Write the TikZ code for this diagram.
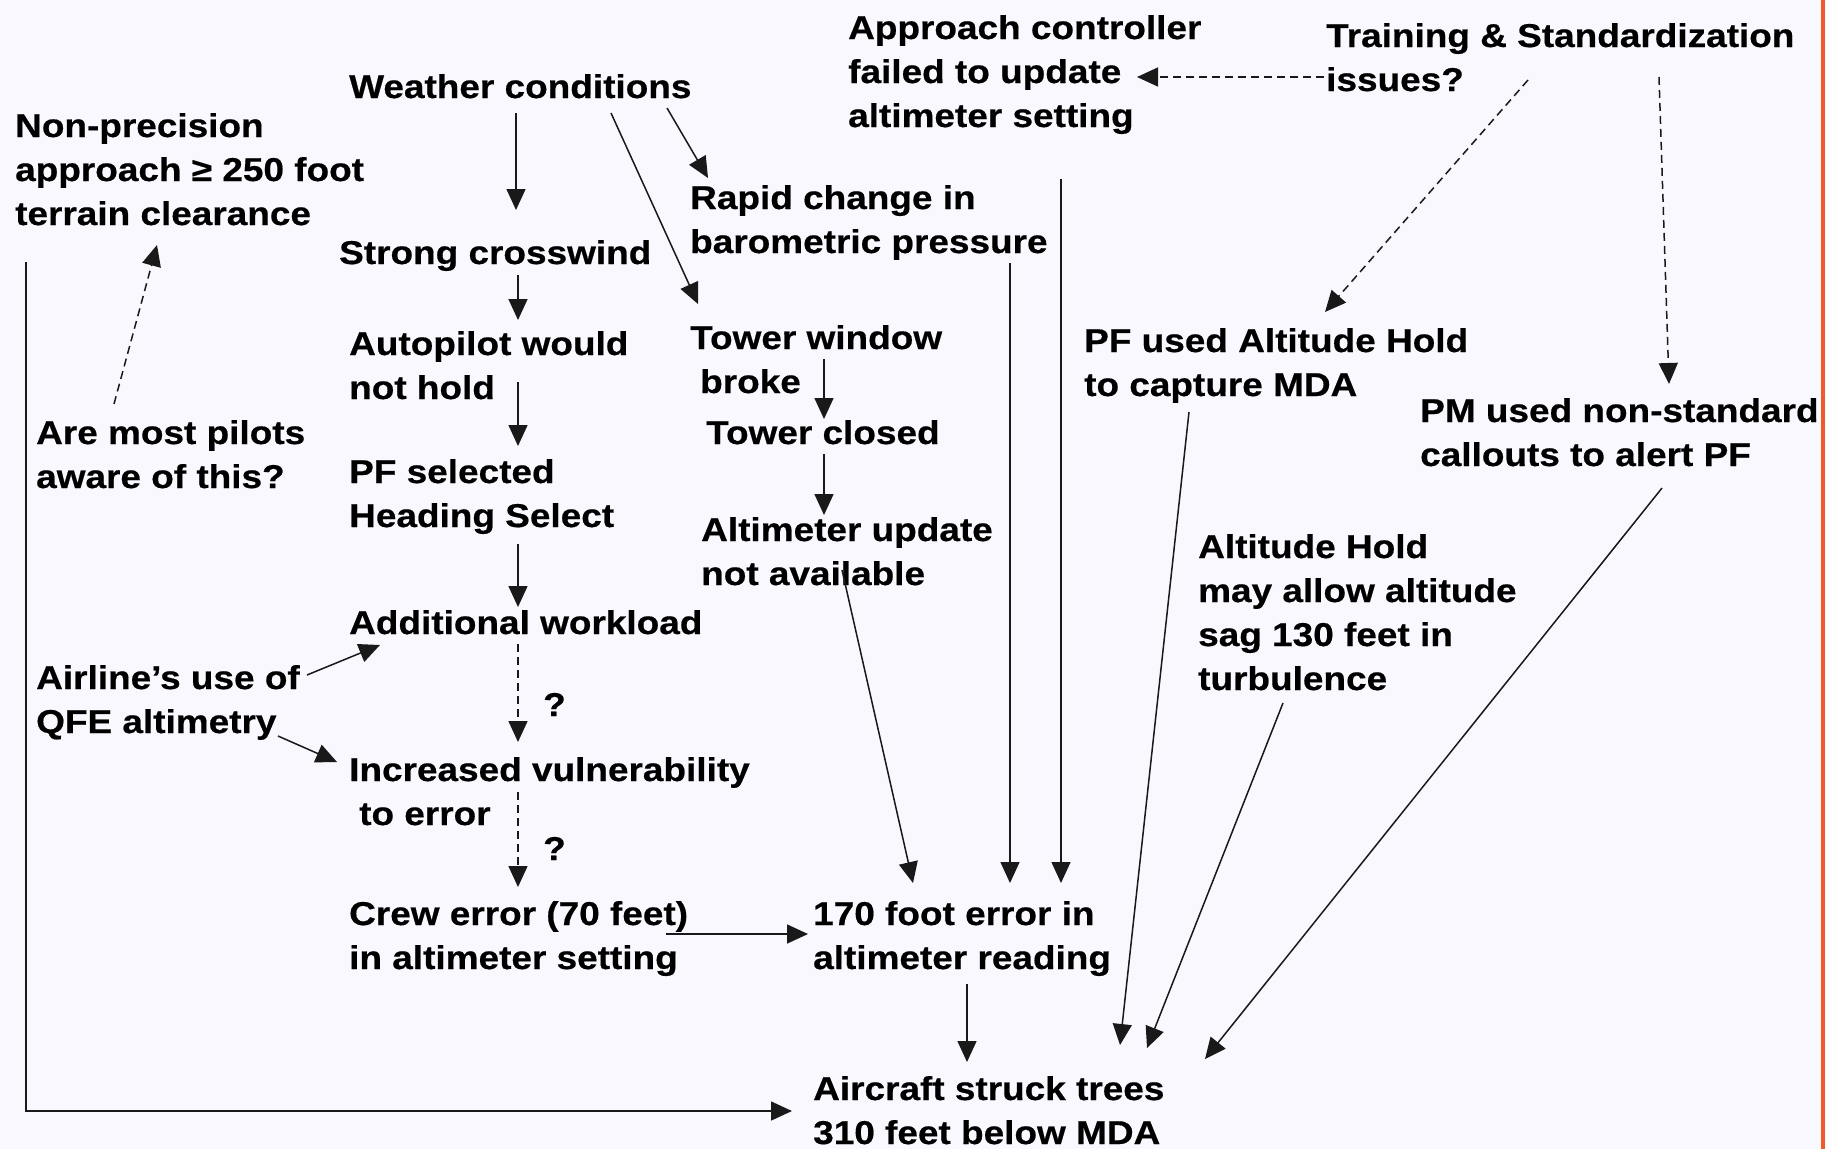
\documentclass[tikz,border=0pt]{standalone}
\usepackage{fontspec}
\setmainfont{Liberation Sans}[FakeStretch=1.12,BoldFeatures={FakeBold=0.5}]
\usepackage{tikz}
\usetikzlibrary{arrows.meta,calc}
\definecolor{pagebg}{HTML}{F8F8FE}
\definecolor{edgex}{HTML}{F05A28}
\tikzset{
  lbl/.style={anchor=base west,inner sep=0pt,align=left,font=\fontsize{33}{44}\selectfont\bfseries},
  ar/.style={-{Triangle[length=21pt,width=19pt]},line width=1.5pt,black!90},
  ard/.style={ar,dash pattern=on 8pt off 5pt}
}
\begin{document}
\begin{tikzpicture}[x=1pt,y=-1pt]
\fill[pagebg] (0,0) rectangle (1826,1149);
\useasboundingbox (0,0) rectangle (1826,1149);
\draw[edgex,line width=3.2pt] (1823,0) -- (1823,1149);

% causes, left and middle (nodes sit on their last baseline)
\node[lbl] (np) at (15,225) {Non-precision\\approach ≥ 250 foot\\terrain clearance};
\node[lbl] (am) at (36,488) {Are most pilots\\aware of this?};
\node[lbl] (al) at (36,733) {Airline’s use of\\QFE altimetry};
\node[lbl] (wc) at (349,98) {Weather conditions};
\node[lbl] (sc) at (339,264) {Strong crosswind};
\node[lbl] (ap) at (349,399) {Autopilot would\\not hold};
\node[lbl] (pfs) at (349,527) {PF selected\\Heading Select};
\node[lbl] (aw) at (349,634) {Additional workload};
\node[lbl] (iv) at (349,825) {Increased vulnerability\\\hspace*{10pt}to error};
\node[lbl] (q1) at (543,716) {?};
\node[lbl] (q2) at (543,860) {?};
\node[lbl] (ce) at (349,969) {Crew error (70 feet)\\in altimeter setting};

% tower chain
\node[lbl] (rc) at (690,253) {Rapid change in\\barometric pressure};
\node[lbl] (tw) at (690,393) {Tower window\\\hspace*{10pt}broke};
\node[lbl] (tc) at (706,444) {Tower closed};
\node[lbl] (au) at (701,585) {Altimeter update\\not available};
\node[lbl] (ac) at (848,127) {Approach controller\\failed to update\\altimeter setting};

% right side
\node[lbl] (ts) at (1326,91) {Training \& Standardization\\issues?};
\node[lbl] (pfa) at (1084,396) {PF used Altitude Hold\\to capture MDA};
\node[lbl] (pm) at (1420,466) {PM used non-standard\\callouts to alert PF};
\node[lbl] (ah) at (1198,690) {Altitude Hold\\may allow altitude\\sag 130 feet in\\turbulence};

% outcome
\node[lbl] (fe) at (813,969) {170 foot error in\\altimeter reading};
\node[lbl] (at) at (813,1144) {Aircraft struck trees\\310 feet below MDA};

% connectors
\draw[ar] ([shift={(167,15)}]wc.base west) -- ([shift={(177,-54)}]sc.base west);
\draw[ar] ([shift={(179,11)}]sc.base west) -- ([shift={(169,-79)}]ap.base west);
\draw[ar] ([shift={(169,-17)}]ap.base west) -- ([shift={(169,-81)}]pfs.base west);
\draw[ar] ([shift={(169,17)}]pfs.base west) -- ([shift={(169,-27)}]aw.base west);
\draw[ard] ([shift={(169,10)}]aw.base west) -- ([shift={(169,-83)}]iv.base west);
\draw[ard] ([shift={(169,-33)}]iv.base west) -- ([shift={(169,-82)}]ce.base west);
\draw[ar] ([shift={(271,-58)}]al.base west) -- ([shift={(31,11)}]aw.base west);
\draw[ar] ([shift={(242,3)}]al.base west) -- ([shift={(-12,-63)}]iv.base west);
\draw[ar] ([shift={(317,-35)}]ce.base west) -- ([shift={(-5,-35)}]fe.base west);
\draw[ar] ([shift={(154,15)}]fe.base west) -- ([shift={(154,-82)}]at.base west);
\draw[ar] ([shift={(11,37)}]np.base west) |- ([shift={(-21,-33)}]at.base west);
\draw[ard] ([shift={(78,-84)}]am.base west) -- ([shift={(142,20)}]np.base west);
\draw[ar] ([shift={(318,10)}]wc.base west) -- ([shift={(18,-75)}]rc.base west);
\draw[ar] ([shift={(262,15)}]wc.base west) -- ([shift={(8,-89)}]tw.base west);
\draw[ar] ([shift={(134,-34)}]tw.base west) -- ([shift={(118,-25)}]tc.base west);
\draw[ar] ([shift={(118,10)}]tc.base west) -- ([shift={(123,-70)}]au.base west);
\draw[ar] ([shift={(141,-15)}]au.base west) -- ([shift={(100,-86)}]fe.base west);
\draw[ar] ([shift={(320,10)}]rc.base west) -- ([shift={(197,-86)}]fe.base west);
\draw[ar] ([shift={(213,52)}]ac.base west) -- ([shift={(248,-86)}]fe.base west);
\draw[ard] ([shift={(-2,-14)}]ts.base west) -- ([shift={(289,-50)}]ac.base west);
\draw[ard] ([shift={(202,-11)}]ts.base west) -- ([shift={(241,-84)}]pfa.base west);
\draw[ard] ([shift={(333,-14)}]ts.base west) -- ([shift={(249,-82)}]pm.base west);
\draw[ar] ([shift={(105,16)}]pfa.base west) -- ([shift={(307,-99)}]at.base west);
\draw[ar] ([shift={(85,13)}]ah.base west) -- ([shift={(334,-96)}]at.base west);
\draw[ar] ([shift={(242,22)}]pm.base west) -- ([shift={(392,-85)}]at.base west);
\end{tikzpicture}
\end{document}
